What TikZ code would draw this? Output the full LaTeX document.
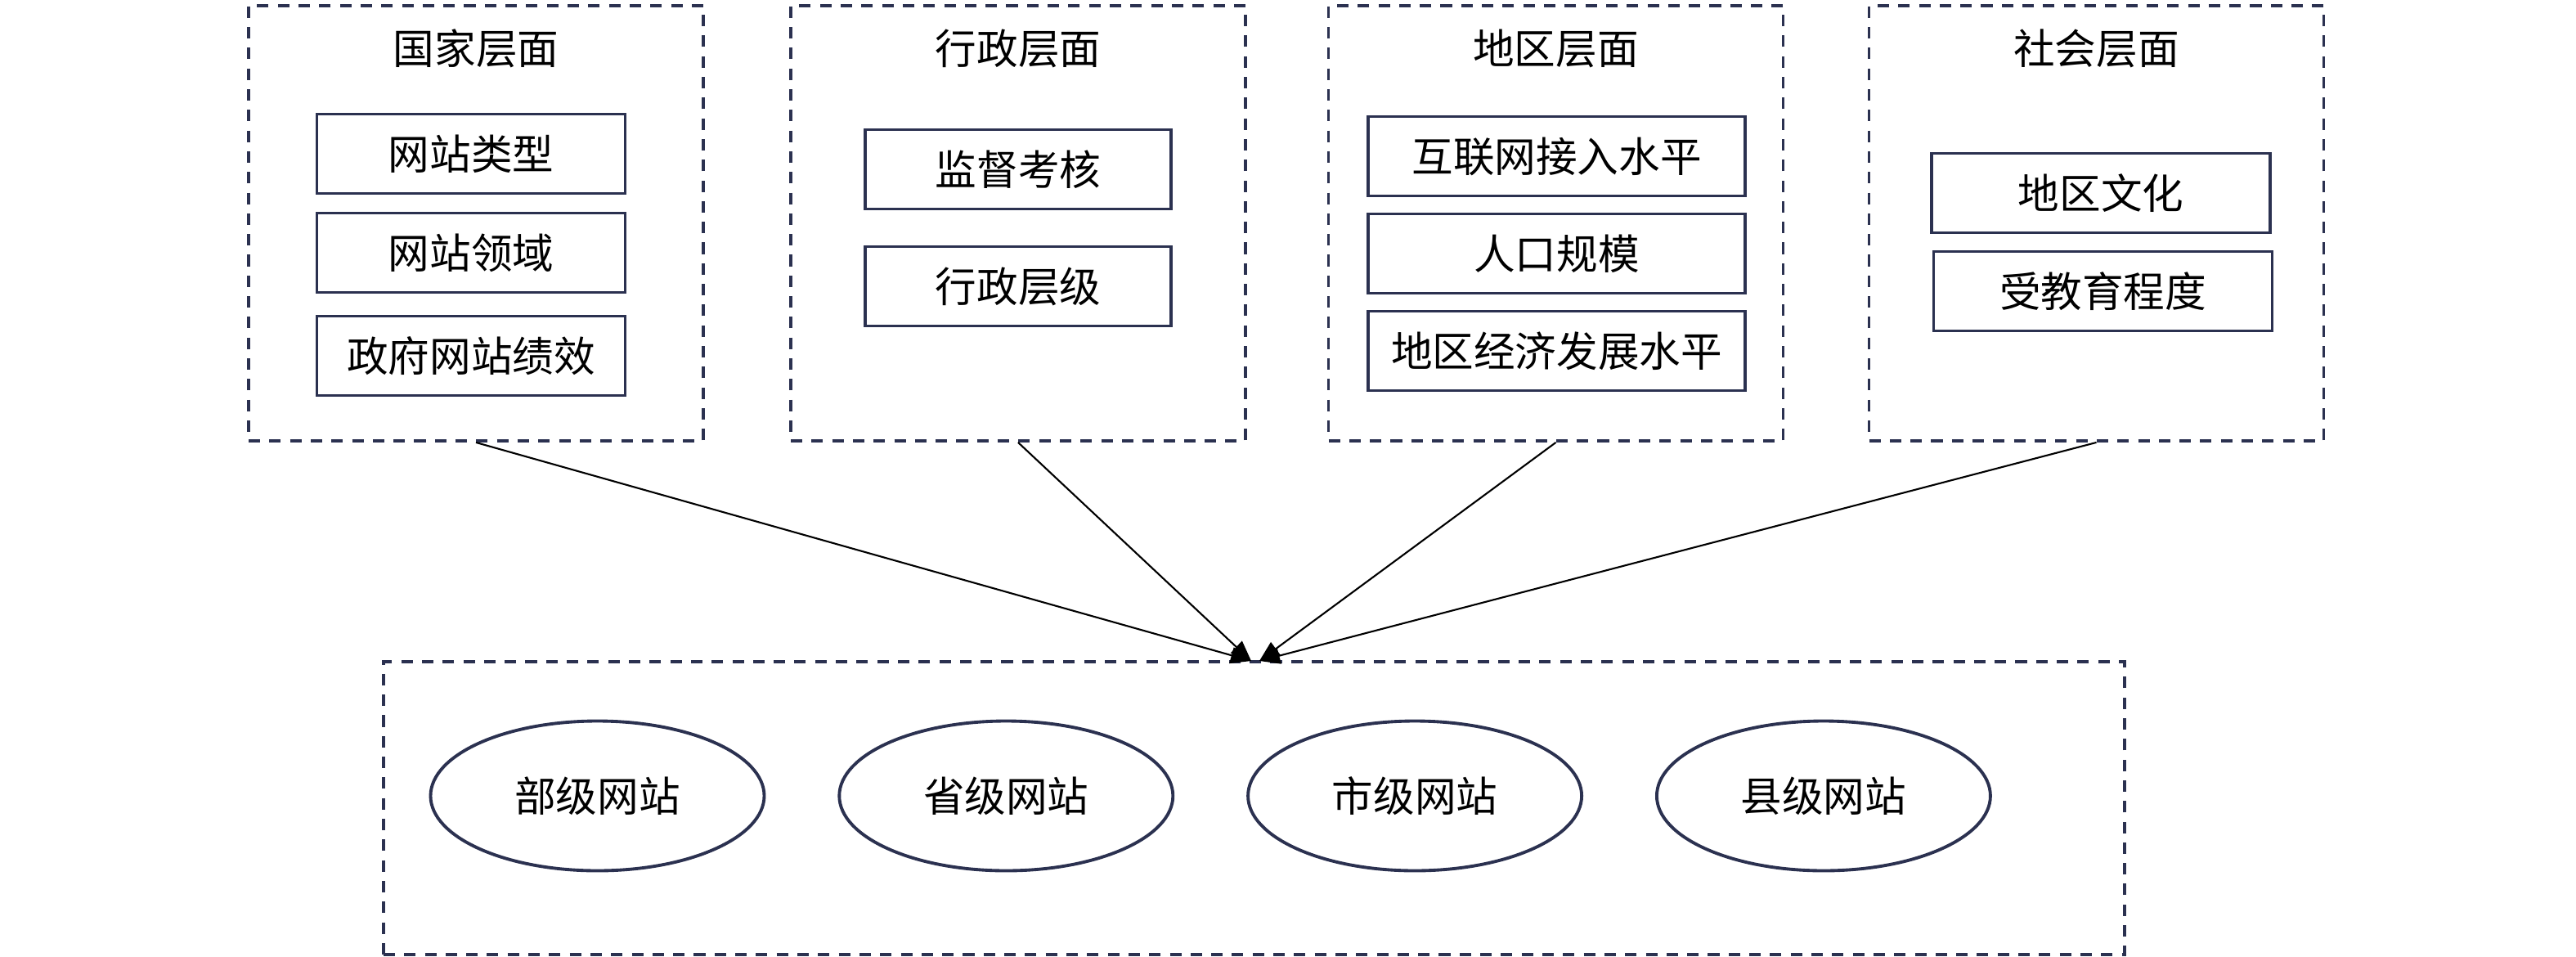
\documentclass[tikz,border=0pt]{standalone}
\usepackage{fontspec}
\newfontfamily\cjk{Noto Sans CJK SC}
\definecolor{myline}{RGB}{43,49,80}
\usetikzlibrary{positioning,shapes,arrows.meta}

\begin{document}
\begin{tikzpicture}[
    every node/.style={font=\cjk\fontsize{14.4}{16}\selectfont},
    layer/.style={draw=myline,line width=1.1pt,dash pattern=on 4pt off 3.2pt,minimum width=5.56cm,minimum height=5.32cm},
    item/.style={draw=myline,line width=1.1pt,minimum height=0.97cm},
    site/.style={draw=myline,ellipse,line width=1.1pt,minimum width=4.08cm,minimum height=1.83cm},
    link/.style={-{Triangle[length=0.25cm,width=0.2cm]},line width=0.6pt},
    node distance=1.21cm
    ]
    \useasboundingbox (0,0) rectangle (31.5,-11.69);

    % the four layers
    \node (g1) [layer] at (5.82,-2.73) {};
    \node (g2) [layer] at (12.45,-2.73) {};
    \node (g3) [layer] at (19.025,-2.73) {};
    \node (g4) [layer] at (25.635,-2.73) {};
    \node (t1) at (5.82,-0.59) {国家层面};
    \node (t2) at (12.45,-0.59) {行政层面};
    \node (t3) at (19.025,-0.59) {地区层面};
    \node (t4) at (25.635,-0.59) {社会层面};

    \node (a1) [item,minimum width=3.77cm] at (5.76,-1.88) {网站类型};
    \node (a2) [item,minimum width=3.77cm,below of=a1] {网站领域};
    \node (a3) [item,minimum width=3.77cm,below of=a2,yshift=-0.05cm] {政府网站绩效};
    \node (b1) [item,minimum width=3.74cm] at (12.45,-2.07) {监督考核};
    \node (b2) [item,minimum width=3.74cm,below of=b1,node distance=1.43cm] {行政层级};
    \node (c1) [item,minimum width=4.61cm] at (19.035,-1.91) {互联网接入水平};
    \node (c2) [item,minimum width=4.61cm,below of=c1,node distance=1.19cm] {人口规模};
    \node (c3) [item,minimum width=4.61cm,below of=c2,node distance=1.19cm] {地区经济发展水平};
    \node (d1) [item,minimum width=4.14cm] at (25.69,-2.36) {地区文化};
    \node (d2) [item,minimum width=4.14cm,below of=d1,node distance=1.2cm,xshift=0.025cm] {受教育程度};

    % the websites
    \node (w) [layer,minimum width=21.29cm,minimum height=3.58cm] at (15.334,-9.88) {};
    \node (s1) [site] at (7.305,-9.73) {部级网站};
    \node (s2) [site,right of=s1,node distance=4.998cm] {省级网站};
    \node (s3) [site,right of=s2,node distance=4.998cm] {市级网站};
    \node (s4) [site,right of=s3,node distance=4.998cm] {县级网站};
    \coordinate (tipL) at (15.30,-8.08);
    \coordinate (tipR) at (15.40,-8.08);

    % the edges
    \draw[link] (g1.south) -- (tipL);
    \draw[link] (g2.south) -- (tipL);
    \draw[link] (g3.south) -- (tipR);
    \draw[link] (g4.south) -- (tipR);
\end{tikzpicture}
\end{document}
